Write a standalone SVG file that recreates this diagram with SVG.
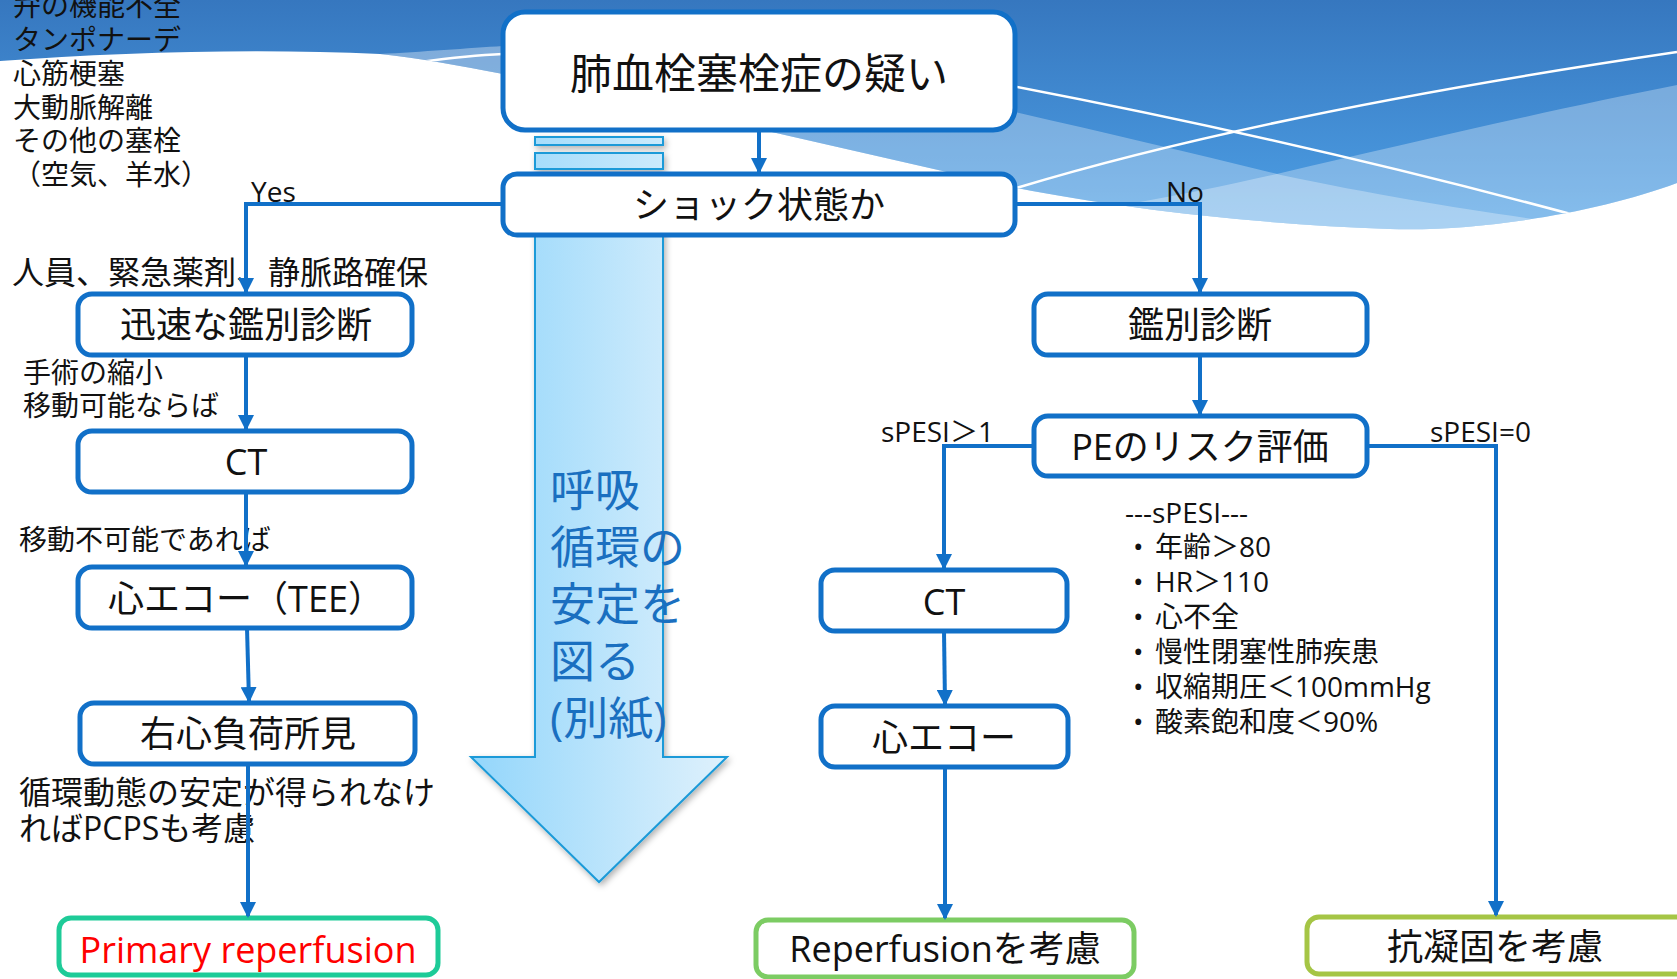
<svg xmlns="http://www.w3.org/2000/svg" width="1677" height="979" viewBox="0 0 1677 979">
<style>
.t{font-family:"Open Sans","Noto Sans CJK JP",sans-serif;fill:#111}
.box{fill:#fff;stroke:#1170c8;stroke-width:5}
.lbl{font-size:36px;text-anchor:middle}
.ann{font-size:28px}
.ann32{font-size:32px}
.con{fill:none;stroke:#1170c8;stroke-width:4}
.wl{fill:none;stroke:#fff;stroke-width:2.5}
</style>
<defs>
<linearGradient id="sky" gradientUnits="userSpaceOnUse" x1="0" y1="0" x2="0" y2="230">
<stop offset="0" stop-color="#3677bf"/><stop offset="0.75" stop-color="#4896dc"/><stop offset="1" stop-color="#52a3e6"/>
</linearGradient>
<linearGradient id="arr" gradientUnits="userSpaceOnUse" x1="471" y1="0" x2="727" y2="0">
<stop offset="0" stop-color="#93d6fb"/><stop offset="1" stop-color="#dff1fc"/>
</linearGradient>
<clipPath id="bgc"><path d="M0,0 H1677 V183 C1600,212 1480,232 1390,229 C1250,224 1120,208 1017,188 L763,130 L503,74 C460,66 420,58 380,54 C260,48 120,52 0,61 Z"/></clipPath>
<filter id="sh" x="-10%" y="-10%" width="130%" height="130%"><feDropShadow dx="2" dy="3" stdDeviation="3" flood-color="#000" flood-opacity="0.3"/></filter>
<marker id="ah" markerUnits="userSpaceOnUse" markerWidth="16" markerHeight="16" refX="14" refY="8" orient="auto"><path d="M0,0 L16,8 L0,16 Z" fill="#1170c8"/></marker>
</defs>
<rect width="1677" height="979" fill="#fff"/>
<g id="background" clip-path="url(#bgc)">
<rect width="1677" height="260" fill="url(#sky)"/>
<path d="M700,40 C850,75 1100,130 1281,175 C1400,200 1500,215 1600,228 L1677,240 L1677,300 L700,300 Z" fill="#fff" fill-opacity="0.3"/>
<path d="M1677,85 C1550,110 1400,145 1281,173 C1150,203 1050,218 950,230 L950,300 L1677,300 Z" fill="#fff" fill-opacity="0.3"/>
<path d="M380,54 C420,52 470,48 503,46 L503,80 L380,80 Z" fill="#fff" fill-opacity="0.35"/>
<path class="wl" d="M980,80 Q1300,140 1600,222"/>
<path class="wl" d="M1000,193 Q1250,115 1677,52"/>
<path class="wl" d="M420,62 C450,58 480,55 503,54"/>
</g>
<g id="big-arrow" filter="url(#sh)">
<rect x="535" y="137" width="128" height="8" fill="url(#arr)" stroke="#1a9ad8" stroke-width="2"/>
<rect x="535" y="153" width="128" height="16" fill="url(#arr)" stroke="#1a9ad8" stroke-width="2"/>
<path d="M535,175 H663 V757 H727 L599,882 L471,757 H535 Z" fill="url(#arr)" stroke="#1a9ad8" stroke-width="2"/>
</g>
<g id="arrow-text" class="t" style="font-size:45px">
<text class="t" style="fill:#1a6fc0" x="550" y="507">呼吸</text>
<text class="t" style="fill:#1a6fc0" x="550" y="564">循環の</text>
<text class="t" style="fill:#1a6fc0" x="550" y="621">安定を</text>
<text class="t" style="fill:#1a6fc0" x="550" y="678">図る</text>
<text class="t" style="fill:#1a6fc0" x="550" y="735">(別紙)</text>
</g>
<g id="annotations">
<text class="t ann" x="13" y="16">弁の機能不全</text>
<text class="t ann" x="13" y="50">タンポナーデ</text>
<text class="t ann" x="13" y="84">心筋梗塞</text>
<text class="t ann" x="13" y="118">大動脈解離</text>
<text class="t ann" x="13" y="151">その他の塞栓</text>
<text class="t ann" x="13" y="185">（空気、羊水）</text>
<text class="t ann32" x="12" y="284">人員、緊急薬剤、静脈路確保</text>
<text class="t ann" x="23" y="383">手術の縮小</text>
<text class="t ann" x="23" y="416">移動可能ならば</text>
<text class="t ann" x="19" y="550">移動不可能であれば</text>
<text class="t ann32" x="19" y="804">循環動態の安定が得られなけ</text>
<text class="t ann32" x="19" y="840">ればPCPSも考慮</text>
<text class="t ann" x="251" y="202">Yes</text>
<text class="t ann" x="1166" y="202">No</text>
<text class="t ann" x="881" y="442">sPESI＞1</text>
<text class="t ann" x="1430" y="442">sPESI=0</text>
<text class="t ann" x="1125" y="523">---sPESI---</text>
<text class="t ann"><tspan x="1133" y="557">•</tspan><tspan x="1155" y="557">年齢＞80</tspan></text>
<text class="t ann"><tspan x="1133" y="592">•</tspan><tspan x="1155" y="592">HR＞110</tspan></text>
<text class="t ann"><tspan x="1133" y="627">•</tspan><tspan x="1155" y="627">心不全</tspan></text>
<text class="t ann"><tspan x="1133" y="662">•</tspan><tspan x="1155" y="662">慢性閉塞性肺疾患</tspan></text>
<text class="t ann"><tspan x="1133" y="697">•</tspan><tspan x="1155" y="697">収縮期圧＜100mmHg</tspan></text>
<text class="t ann"><tspan x="1133" y="732">•</tspan><tspan x="1155" y="732">酸素飽和度＜90%</tspan></text>
</g>
<g id="n-top"><rect class="box" x="503" y="12" width="512" height="118" rx="22"/><text class="t lbl" style="font-size:42px" x="759" y="89">肺血栓塞栓症の疑い</text></g>
<g id="n-shock"><rect class="box" x="503" y="174" width="512" height="61" rx="14"/><text class="t lbl" x="759" y="218">ショック状態か</text></g>
<g id="n-rapid"><rect class="box" x="78" y="294" width="334" height="61" rx="14"/><text class="t lbl" x="246" y="338">迅速な鑑別診断</text></g>
<g id="n-ct-left"><rect class="box" x="78" y="431" width="334" height="61" rx="14"/><text class="t lbl" x="246" y="475">CT</text></g>
<g id="n-tee"><rect class="box" x="78" y="567" width="334" height="61" rx="14"/><text class="t lbl" x="246" y="612">心エコー（TEE）</text></g>
<g id="n-rv"><rect class="box" x="80" y="703" width="335" height="61" rx="14"/><text class="t lbl" x="248" y="747">右心負荷所見</text></g>
<g id="n-primary"><rect x="59" y="918" width="379" height="57" rx="12" fill="#fff" stroke="#1ecb98" stroke-width="5"/><text class="t lbl" style="fill:#ff0000" x="248" y="963">Primary reperfusion</text></g>
<g id="n-diff"><rect class="box" x="1034" y="294" width="333" height="61" rx="14"/><text class="t lbl" x="1200" y="338">鑑別診断</text></g>
<g id="n-pe"><rect class="box" x="1034" y="416" width="333" height="60" rx="14"/><text class="t lbl" x="1200" y="460">PEのリスク評価</text></g>
<g id="n-ct-right"><rect class="box" x="821" y="570" width="246" height="61" rx="14"/><text class="t lbl" x="944" y="615">CT</text></g>
<g id="n-echo"><rect class="box" x="821" y="706" width="247" height="61" rx="14"/><text class="t lbl" x="944" y="751">心エコー</text></g>
<g id="n-reperf"><rect x="756" y="920" width="378" height="57" rx="12" fill="#fff" stroke="#7ccc63" stroke-width="5"/><text class="t lbl" x="945" y="962">Reperfusionを考慮</text></g>
<g id="n-anticoag"><rect x="1307" y="917" width="420" height="57" rx="12" fill="#fff" stroke="#a5c545" stroke-width="5"/><text class="t lbl" x="1495" y="960">抗凝固を考慮</text></g>
<g id="connectors">
<path class="con" d="M759,130 V172" marker-end="url(#ah)"/>
<path class="con" d="M503,204 H246 V292" marker-end="url(#ah)"/>
<path class="con" d="M1015,204 H1200 V292" marker-end="url(#ah)"/>
<path class="con" d="M246,355 V429" marker-end="url(#ah)"/>
<path class="con" d="M246,492 V565" marker-end="url(#ah)"/>
<path class="con" d="M247,628 L249,701" marker-end="url(#ah)"/>
<path class="con" d="M248,764 V916" marker-end="url(#ah)"/>
<path class="con" d="M1200,355 V414" marker-end="url(#ah)"/>
<path class="con" d="M1034,446 H944 V568" marker-end="url(#ah)"/>
<path class="con" d="M1367,446 H1496 V915" marker-end="url(#ah)"/>
<path class="con" d="M944,631 L945,704" marker-end="url(#ah)"/>
<path class="con" d="M945,767 V918" marker-end="url(#ah)"/>
</g>
</svg>
